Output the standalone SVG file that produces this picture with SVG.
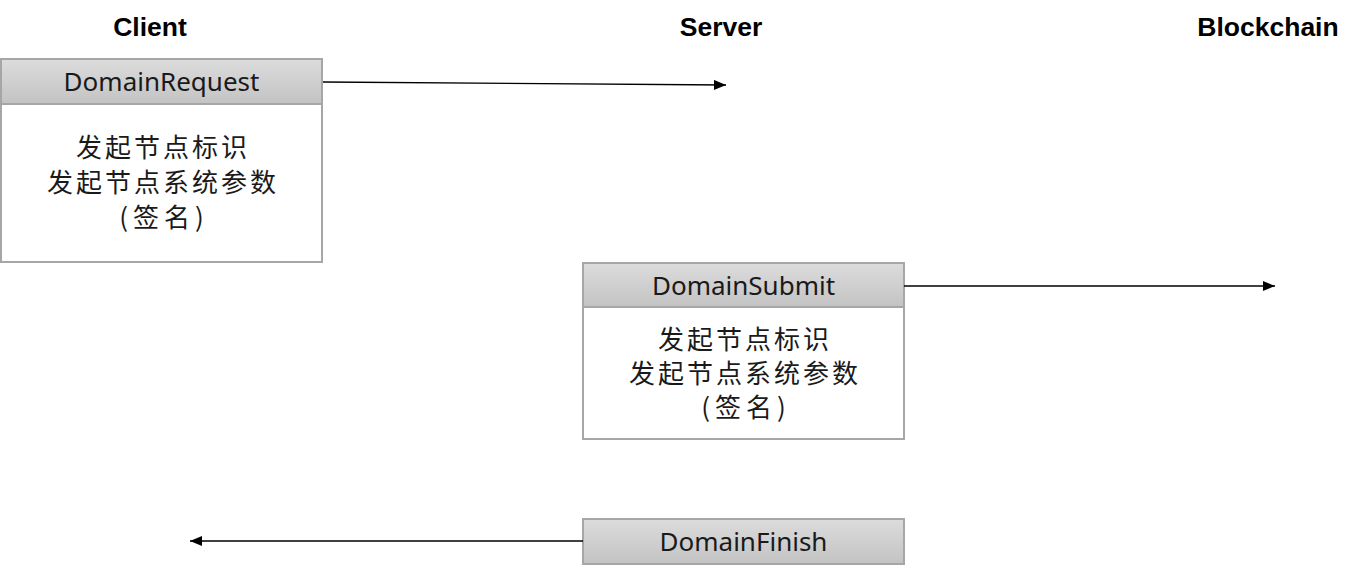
<svg xmlns="http://www.w3.org/2000/svg" width="1358" height="577" viewBox="0 0 1358 577">
<defs>
<linearGradient id="hg" x1="0" y1="0" x2="0" y2="1">
<stop offset="0" stop-color="#dcdcdc"/>
<stop offset="1" stop-color="#c3c3c3"/>
</linearGradient>
<marker id="ah" viewBox="0 0 12 10" refX="12" refY="5" markerWidth="12" markerHeight="10" markerUnits="userSpaceOnUse" orient="auto">
<path d="M0,0 L12,5 L0,10 Z" fill="#000"/>
</marker>
</defs>
<style>
.title{font-family:"Liberation Sans",Arial,sans-serif;font-weight:bold;font-size:26.5px;fill:#000;text-anchor:middle}
.hdr{fill:url(#hg);stroke:#a6a6a6;stroke-width:2}
.body{fill:#fff;stroke:#a6a6a6;stroke-width:2}
.ht{font-family:"Noto Sans","Noto Sans CJK SC",sans-serif;font-size:26px;fill:#1a1a1a;text-anchor:middle}
.bt{font-family:"Noto Sans CJK SC",sans-serif;font-size:26px;letter-spacing:3px;fill:#1a1a1a;text-anchor:middle}
.bp{letter-spacing:5px}
.conn{stroke:#000;stroke-width:1.3;fill:none;marker-end:url(#ah)}
</style>
<g id="titles">
<text class="title" x="150" y="36">Client</text>
<text class="title" x="721" y="36">Server</text>
<text class="title" x="1268" y="36">Blockchain</text>
</g>
<g id="domainRequest">
<rect class="body" x="1" y="104" width="321" height="158"/>
<rect class="hdr" x="1" y="59" width="321" height="45"/>
<text class="ht" x="161.5" y="91">DomainRequest</text>
<text class="bt" x="163" y="157">发起节点标识</text>
<text class="bt" x="163" y="192">发起节点系统参数</text>
<text class="bt bp" x="164" y="227">(签名)</text>
</g>
<g id="domainSubmit">
<rect class="body" x="583" y="307" width="321" height="132"/>
<rect class="hdr" x="583" y="263" width="321" height="44"/>
<text class="ht" x="743.5" y="295">DomainSubmit</text>
<text class="bt" x="745" y="349">发起节点标识</text>
<text class="bt" x="745" y="383">发起节点系统参数</text>
<text class="bt bp" x="746" y="417">(签名)</text>
</g>
<g id="domainFinish">
<rect class="hdr" x="583" y="519" width="321" height="45"/>
<text class="ht" x="743.5" y="551">DomainFinish</text>
</g>
<g id="connectors">
<line class="conn" x1="323" y1="82" x2="726" y2="85"/>
<line class="conn" x1="904" y1="286" x2="1275" y2="286"/>
<line class="conn" x1="583" y1="541" x2="190" y2="541"/>
</g>
</svg>
